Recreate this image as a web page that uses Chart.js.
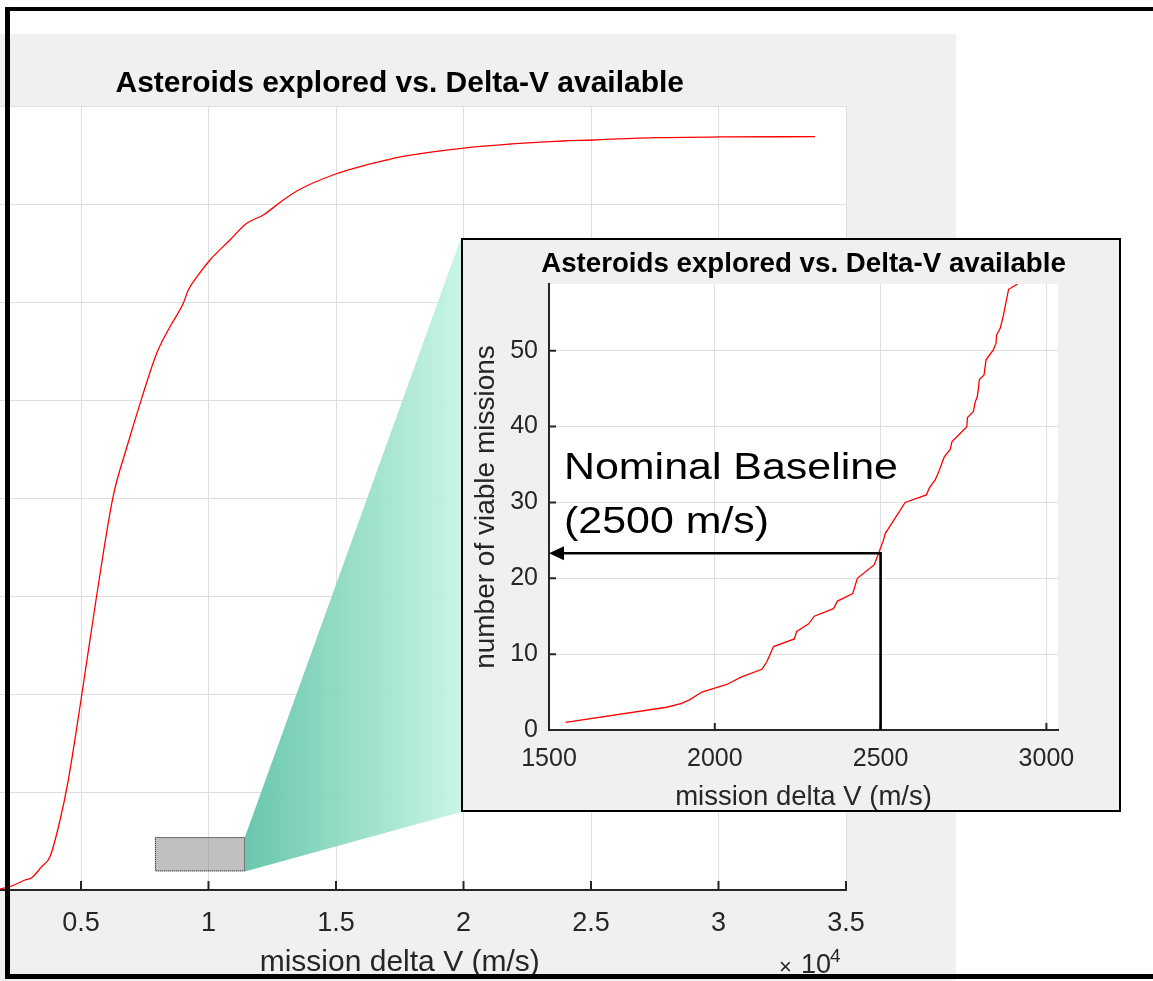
<!DOCTYPE html>
<html>
<head>
<meta charset="utf-8">
<script src="https://cdn.jsdelivr.net/npm/chart.js@4.4.1/dist/chart.umd.min.js"></script>
<style>
  html, body { margin: 0; padding: 0; background: #fff; overflow: hidden; }
  body { width: 1153px; height: 981px; position: relative; }
  canvas { display: block; }
  #mainWrap { position: absolute; z-index: 1; }
  #insetBox { position: absolute; border: 2px solid #000; background: #f0f0f0; z-index: 3; overflow: hidden; }
  #frame { position: absolute; left: 5px; top: 7px; width: 1200px; height: 963px;
           border-style: solid; border-color: #000; border-width: 4px 0 5px 5px; z-index: 5; }
</style>
</head>
<body>
<div id="mainWrap"><canvas id="mainChart"></canvas></div>
<div id="insetBox"><canvas id="insetChart"></canvas></div>
<div id="frame"></div>
<script>
// main curve: missions vs delta V (whole range)
const mainDeltaV = [1550, 1824, 2216, 2804, 3067, 3459, 3784, 4149, 4502, 5000,
    5588, 6255, 6800, 7380, 7969, 8490, 9012, 9208, 9600, 10059,
    10843, 11498, 12149, 12933, 13588, 14882, 16204, 16988, 17510, 20020,
    23392, 25078, 27588, 30098, 33784];
const mainCount = [0, 10, 34, 102, 126, 238, 340, 681, 1122, 1939,
    2959, 4010, 4520, 5017, 5477, 5748, 5987, 6122, 6276, 6429,
    6633, 6803, 6888, 7041, 7150, 7296, 7398, 7449, 7480, 7571,
    7636, 7653, 7677, 7684, 7687];
const mainXTicks = [0, 5000, 10000, 15000, 20000, 25000, 30000, 35000];
const mainYTicks = [0, 1000, 2000, 3000, 4000, 5000, 6000, 7000, 8000];

// zoomed curve (inset)
const insetDeltaV = [1550, 1855, 1900, 1925, 1961, 2036, 2081, 2142, 2157, 2177,
    2240, 2247, 2283, 2300, 2358, 2370, 2416, 2430, 2481, 2494,
    2509, 2514, 2574, 2638, 2648, 2665, 2675, 2692, 2710, 2715,
    2760, 2762, 2780, 2785, 2792, 2798, 2812, 2818, 2840, 2848,
    2850, 2861, 2871, 2876, 2886, 2913];
const insetCount = [1, 3, 3.5, 4, 5, 6, 7, 8, 9, 11,
    12, 13, 14, 15, 16, 17, 18, 20, 21.8, 23.3,
    25.1, 25.9, 30, 31, 32, 33, 34, 36, 37, 38,
    40, 41.2, 42, 43.2, 44, 46.2, 46.8, 48.8, 50.1, 51,
    52.1, 53, 54.8, 55.9, 58.1, 58.8];
const insetXTicks = [1500, 2000, 2500, 3000];
const insetYTicks = [0, 10, 20, 30, 40, 50];

// zoom marker box on the main chart (data units)
const zoomBoxDeltaV = [7900, 11430];
const zoomBoxCount = [190, 540];

// nominal baseline
const baselineDeltaV = 2500;
const baselineCount = 23.3;
const baselineText = ['Nominal Baseline', '(2500 m/s)'];

const TITLE = 'Asteroids explored vs. Delta-V available';
const XLABEL = 'mission delta V (m/s)';
const YLABEL = 'number of viable missions';

// page layout
const MAIN = { left: -156, top: 34, width: 1112, height: 947 };
const INSET = { left: 461, top: 238, width: 656, height: 570 }; // inner size, 2px border
const INSET_AXIS_W = 86;
const INSET_CANVAS_W = 681; // wider than the box so the title centres on the plot

const FONT = '"Liberation Sans", Arial, Helvetica, sans-serif';
const AXIS = '#262626';
const GRID = '#dfdfdf';

function place() {
    const mw = document.getElementById('mainWrap');
    mw.style.left = MAIN.left + 'px';
    mw.style.top = MAIN.top + 'px';
    const mc = document.getElementById('mainChart');
    mc.width = MAIN.width; mc.height = MAIN.height;
    mc.style.width = MAIN.width + 'px'; mc.style.height = MAIN.height + 'px';

    const ib = document.getElementById('insetBox');
    ib.style.left = INSET.left + 'px';
    ib.style.top = INSET.top + 'px';
    ib.style.width = INSET.width + 'px';
    ib.style.height = INSET.height + 'px';
    const ic = document.getElementById('insetChart');
    ic.width = INSET_CANVAS_W; ic.height = INSET.height;
    ic.style.width = INSET_CANVAS_W + 'px'; ic.style.height = INSET.height + 'px';
}
place();

Chart.defaults.font.family = FONT;

function setTicks(list) {
    return scale => { scale.ticks = list.map(v => ({ value: v })); };
}

function paintBackground(chart) {
    const { ctx, chartArea: a } = chart;
    ctx.save();
    ctx.fillStyle = '#f0f0f0';
    ctx.fillRect(0, 0, chart.width, chart.height);
    ctx.fillStyle = '#fff';
    ctx.fillRect(a.left, a.top, a.right - a.left, a.bottom - a.top);
    ctx.restore();
}

// matlab style ticks pointing into the plot
function innerTicks(chart, len, withY) {
    const { ctx, chartArea: a, scales: { x, y } } = chart;
    ctx.save();
    ctx.strokeStyle = AXIS;
    ctx.lineWidth = 2;
    ctx.beginPath();
    x.ticks.forEach(t => {
        const px = x.getPixelForValue(t.value);
        if (px < a.left - 1 || px > a.right + 1) return;
        ctx.moveTo(px, a.bottom);
        ctx.lineTo(px, a.bottom - len);
    });
    if (withY) {
        y.ticks.forEach(t => {
            const py = y.getPixelForValue(t.value);
            ctx.moveTo(a.left, py);
            ctx.lineTo(a.left + len, py);
        });
    }
    ctx.stroke();
    ctx.restore();
}

const mainOverlay = {
    id: 'mainOverlay',
    beforeDraw: paintBackground,
    afterDatasetsDraw(chart) {
        const { ctx, scales: { x, y } } = chart;
        const x0 = x.getPixelForValue(zoomBoxDeltaV[0]);
        const x1 = x.getPixelForValue(zoomBoxDeltaV[1]);
        const yTop = y.getPixelForValue(zoomBoxCount[1]);
        const yBot = y.getPixelForValue(zoomBoxCount[0]);

        // connector towards the inset
        const ix = INSET.left - MAIN.left;
        const iTop = INSET.top - MAIN.top;
        const iBot = INSET.top + INSET.height + 4 - MAIN.top;
        ctx.save();
        const g = ctx.createLinearGradient(x1, 0, ix, 0);
        g.addColorStop(0, 'rgb(92,194,166)');
        g.addColorStop(1, 'rgb(196,245,226)');
        ctx.globalAlpha = 0.92;
        ctx.fillStyle = g;
        ctx.beginPath();
        ctx.moveTo(x1, yTop);
        ctx.lineTo(ix, iTop);
        ctx.lineTo(ix, iBot);
        ctx.lineTo(x1, yBot);
        ctx.closePath();
        ctx.fill();
        ctx.restore();

        ctx.save();
        ctx.fillStyle = 'rgba(150,150,150,0.6)';
        ctx.fillRect(x0, yTop, x1 - x0, yBot - yTop);
        ctx.strokeStyle = '#222';
        ctx.lineWidth = 1;
        ctx.setLineDash([1, 1]);
        ctx.strokeRect(x0 + 0.5, yTop + 0.5, x1 - x0 - 1, yBot - yTop - 1);
        ctx.restore();
    },
    afterDraw(chart) {
        innerTicks(chart, 9, false);
        // x10^4 exponent
        const { ctx, chartArea: a } = chart;
        ctx.save();
        ctx.fillStyle = AXIS;
        ctx.textAlign = 'left';
        ctx.textBaseline = 'alphabetic';
        ctx.font = '22px ' + FONT;
        ctx.fillText('\u00d7', a.right - 67, a.bottom + 84);
        ctx.font = '27px ' + FONT;
        ctx.fillText('10', a.right - 45, a.bottom + 83);
        ctx.font = '19px ' + FONT;
        ctx.fillText('4', a.right - 16, a.bottom + 72);
        ctx.restore();
    }
};

const insetOverlay = {
    id: 'insetOverlay',
    beforeDraw: paintBackground,
    afterDraw(chart) {
        innerTicks(chart, 7, true);
        const { ctx, chartArea: a, scales: { x, y } } = chart;
        const px = x.getPixelForValue(baselineDeltaV);
        const py = y.getPixelForValue(baselineCount);
        const py0 = y.getPixelForValue(0);
        const tip = a.left;

        ctx.save();
        ctx.strokeStyle = '#000';
        ctx.fillStyle = '#000';
        ctx.lineWidth = 2.6;
        ctx.lineJoin = 'miter';
        ctx.beginPath();
        ctx.moveTo(px, py0);
        ctx.lineTo(px, py);
        ctx.lineTo(tip + 12, py);
        ctx.stroke();
        ctx.beginPath();
        ctx.moveTo(tip, py);
        ctx.lineTo(tip + 15, py - 7);
        ctx.lineTo(tip + 15, py + 7);
        ctx.closePath();
        ctx.fill();

        // annotation text (stretched wide like the original)
        ctx.font = '37px ' + FONT;
        ctx.textAlign = 'left';
        ctx.textBaseline = 'alphabetic';
        const tx = a.left + 15;
        ctx.translate(tx, 0);
        ctx.scale(1.16, 1);
        ctx.fillText(baselineText[0], 0, py - 74);
        ctx.fillText(baselineText[1], 0, py - 20);
        ctx.restore();
    }
};

new Chart(document.getElementById('mainChart').getContext('2d'), {
    type: 'line',
    data: {
        datasets: [{
            data: mainDeltaV.map((v, i) => ({ x: v, y: mainCount[i] })),
            borderColor: '#ff0000',
            borderWidth: 1.3,
            pointRadius: 0,
            cubicInterpolationMode: 'monotone',
            fill: false
        }]
    },
    options: {
        responsive: false,
        animation: false,
        devicePixelRatio: 1,
        layout: { padding: { left: 0, right: 110, top: 0, bottom: 0 } },
        plugins: {
            legend: { display: false },
            tooltip: { enabled: false },
            title: {
                display: true,
                text: TITLE,
                color: '#000',
                fullSize: false,
                font: { family: FONT, size: 30, weight: 'bold', lineHeight: 1 },
                padding: { top: 35, bottom: 7 }
            }
        },
        scales: {
            x: {
                type: 'linear',
                min: 0,
                max: 35000,
                afterBuildTicks: setTicks(mainXTicks),
                afterFit: s => { s.height = 91; },
                grid: { color: GRID, lineWidth: 1, drawTicks: false },
                border: { color: AXIS, width: 2 },
                ticks: {
                    color: AXIS,
                    font: { family: FONT, size: 27 },
                    padding: 17,
                    maxRotation: 0,
                    autoSkip: false,
                    callback: v => String(v / 10000)
                },
                title: {
                    display: true,
                    text: XLABEL,
                    color: AXIS,
                    font: { family: FONT, size: 30, lineHeight: 1 },
                    padding: { top: 0, bottom: 3 }
                }
            },
            y: {
                type: 'linear',
                min: 0,
                max: 8000,
                afterBuildTicks: setTicks(mainYTicks),
                afterFit: s => { s.width = 109.5; },
                grid: { color: GRID, lineWidth: 1, drawTicks: false },
                border: { display: false },
                ticks: { display: false }
            }
        }
    },
    plugins: [mainOverlay]
});

new Chart(document.getElementById('insetChart').getContext('2d'), {
    type: 'line',
    data: {
        datasets: [{
            data: insetDeltaV.map((v, i) => ({ x: v, y: insetCount[i] })),
            borderColor: '#ff0000',
            borderWidth: 1.3,
            pointRadius: 0,
            tension: 0,
            fill: false
        }]
    },
    options: {
        responsive: false,
        animation: false,
        devicePixelRatio: 1,
        layout: { padding: 0 },
        plugins: {
            legend: { display: false },
            tooltip: { enabled: false },
            title: {
                display: true,
                text: TITLE,
                color: '#000',
                font: { family: FONT, size: 27.7, weight: 'bold', lineHeight: 1 },
                padding: { top: 11, bottom: 5.3 }
            }
        },
        scales: {
            x: {
                type: 'linear',
                min: 1500,
                max: 3035,
                afterBuildTicks: setTicks(insetXTicks),
                afterFit: s => { s.height = 80; },
                grid: { color: GRID, lineWidth: 1, drawTicks: false },
                border: { color: AXIS, width: 2 },
                ticks: {
                    color: AXIS,
                    font: { family: FONT, size: 25 },
                    padding: 14,
                    maxRotation: 0,
                    autoSkip: false,
                    callback: v => String(v)
                },
                title: {
                    display: true,
                    text: XLABEL,
                    color: AXIS,
                    font: { family: FONT, size: 27.5, lineHeight: 1 },
                    padding: { top: 0, bottom: -1 }
                }
            },
            y: {
                type: 'linear',
                min: 0,
                max: 58.8,
                afterBuildTicks: setTicks(insetYTicks),
                afterFit: s => { s.width = INSET_AXIS_W; },
                grid: { color: GRID, lineWidth: 1, drawTicks: false },
                border: { color: AXIS, width: 2 },
                ticks: {
                    color: AXIS,
                    font: { family: FONT, size: 25 },
                    padding: 11,
                    callback: v => String(v)
                },
                title: {
                    display: true,
                    text: YLABEL,
                    color: AXIS,
                    font: { family: FONT, size: 28, lineHeight: 1 },
                    padding: { top: 9, bottom: 0 }
                }
            },
            // empty right-hand strip, same width as the y axis, keeps the title centred on the plot
            yRight: {
                type: 'linear',
                position: 'right',
                afterFit: s => { s.width = INSET_AXIS_W; },
                grid: { display: false },
                border: { display: false },
                ticks: { display: false }
            }
        }
    },
    plugins: [insetOverlay]
});
</script>
</body>
</html>
